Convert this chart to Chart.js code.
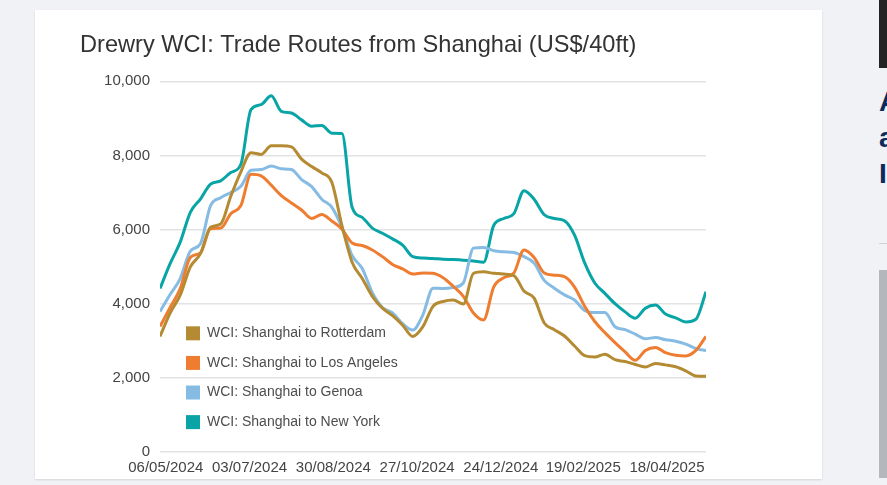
<!DOCTYPE html>
<html>
<head>
<meta charset="utf-8">
<script src="https://cdn.jsdelivr.net/npm/chart.js@4.4.1/dist/chart.umd.min.js"></script>
<style>
  html, body { margin:0; padding:0; width:887px; height:485px; overflow:hidden; background:#f1f2f6; }
  #card { position:absolute; left:35px; top:10px; width:787px; height:469px; background:#fff; box-shadow:0 1px 2px rgba(0,0,0,0.12); }
  #chart { position:absolute; left:0; top:0; }
  #topblock { position:absolute; left:879px; top:0; width:20px; height:68px; background:#232323; }
  #heading { position:absolute; left:879px; top:84px; width:200px; font:bold 28px "Liberation Sans", Arial, sans-serif; line-height:36px; color:#0b2b5c; }
  #rule { position:absolute; left:879px; top:243px; width:20px; height:1px; background:#cfd2d6; }
  #greyblock { position:absolute; left:879px; top:270px; width:20px; height:208px; background:#b4b8bd; }
</style>
</head>
<body>
<div id="card"></div>
<div id="topblock"></div>
<div id="heading">A<br>a<br>I</div>
<div id="rule"></div>
<div id="greyblock"></div>
<canvas id="chart" width="887" height="485"></canvas>
<script>
// weekly WCI readings, first one on startDate
var startDate = "02/05/2024";
var tickLabels = ["06/05/2024","03/07/2024","30/08/2024","27/10/2024","24/12/2024","19/02/2025","18/04/2025"];

var rotterdam = [3117,3750,4234,4993,5350,6065,6150,6900,7560,8075,8029,8260,8260,8230,7900,7700,7530,7270,
  6100,5120,4680,4200,3880,3680,3420,3117,3380,3930,4060,4100,3990,4820,4860,4820,4800,4760,4340,4150,
  3480,3300,3130,2860,2600,2565,2640,2490,2440,2360,2294,2385,2350,2300,2190,2050,2045];
var losAngeles = [3385,3900,4411,5250,5370,6020,6040,6430,6650,7494,7450,7200,6914,6720,6530,6300,6410,6230,
  6010,5640,5570,5450,5270,5060,4940,4800,4830,4820,4700,4470,4200,3750,3560,4450,4700,4830,5450,5250,
  4830,4770,4730,4450,3930,3520,3220,2950,2700,2473,2740,2822,2680,2610,2590,2740,3117];
var genoa = [3787,4250,4679,5420,5620,6646,6860,7000,7170,7600,7620,7718,7640,7620,7350,7160,6820,6600,
  6050,5300,4950,4300,3900,3750,3460,3290,3700,4420,4411,4440,4560,5500,5520,5430,5400,5380,5270,5100,
  4630,4420,4240,4100,3820,3760,3760,3380,3300,3180,3055,3090,3030,2990,2910,2790,2734];
var newYork = [4411,5082,5663,6467,6823,7226,7316,7539,7762,9236,9370,9611,9192,9147,8960,8790,8810,8600,
  8590,6600,6330,6040,5900,5750,5580,5270,5234,5220,5200,5190,5175,5150,5120,6110,6300,6430,7050,6820,
  6400,6300,6240,5850,5100,4560,4280,4000,3780,3610,3880,3966,3720,3620,3510,3580,4323];

var seriesNames = ["WCI: Shanghai to Rotterdam","WCI: Shanghai to Los Angeles","WCI: Shanghai to Genoa","WCI: Shanghai to New York"];
var seriesColors = ["#b48a32","#ef7d31","#86bce4","#08a4a6"];
var seriesValues = [rotterdam, losAngeles, genoa, newYork];

function toDay(s) {
    var p = s.split("/");
    return Date.UTC(+p[2], +p[1]-1, +p[0]) / 86400000;
}
var day0 = toDay(startDate);
var tickDays = tickLabels.map(function(s){ return toDay(s) - day0; });

function points(values) {
    return values.map(function(v, i){ return {x: i*7, y: v}; });
}

var datasets = seriesValues.map(function(vals, k){
    return {
        label: seriesNames[k],
        data: points(vals),
        borderColor: seriesColors[k],
        backgroundColor: seriesColors[k],
        borderWidth: 3,
        pointRadius: 0,
        fill: false,
        cubicInterpolationMode: "monotone"
    };
});

// legend sits inside the plot, lower left
var insideLegend = {
    id: "insideLegend",
    afterDraw: function(chart) {
        var ctx = chart.ctx;
        var area = chart.chartArea;
        ctx.save();
        ctx.font = "14px 'Liberation Sans', Arial, sans-serif";
        ctx.textBaseline = "middle";
        chart.data.datasets.forEach(function(ds, i){
            var y = area.top + 252 + i*29.6;
            ctx.fillStyle = ds.borderColor;
            ctx.fillRect(area.left + 26, y - 7, 14, 14);
            ctx.fillStyle = "#4d4d4d";
            ctx.fillText(ds.label, area.left + 47, y);
        });
        ctx.restore();
    }
};

var fontFam = "'Liberation Sans', Arial, sans-serif";

new Chart(document.getElementById("chart"), {
    type: "line",
    data: { datasets: datasets },
    plugins: [insideLegend],
    options: {
        responsive: false,
        animation: false,
        layout: { padding: { left: 80, right: 181, top: 31, bottom: 1 } },
        plugins: {
            legend: { display: false },
            tooltip: { enabled: false },
            title: {
                display: true,
                text: "Drewry WCI: Trade Routes from Shanghai (US$/40ft)",
                align: "start",
                color: "#333",
                font: { family: fontFam, size: 23.6, weight: "normal" },
                padding: { top: 0, bottom: 22 }
            }
        },
        scales: {
            x: {
                type: "linear",
                min: 0,
                max: (rotterdam.length - 1) * 7,
                bounds: "data",
                grid: { display: false, drawTicks: false },
                border: { display: false },
                afterBuildTicks: function(scale) {
                    scale.ticks = tickDays.map(function(d){ return {value: d}; });
                },
                ticks: {
                    autoSkip: false,
                    maxRotation: 0,
                    padding: 7,
                    color: "#444",
                    font: { family: fontFam, size: 15 },
                    callback: function(v) {
                        var i = tickDays.indexOf(v);
                        return i >= 0 ? tickLabels[i] : "";
                    }
                }
            },
            y: {
                min: 0,
                max: 10000,
                afterFit: function(scale) { scale.width = 80; },
                grid: { color: "#e3e3e3", lineWidth: 1.5, drawTicks: false },
                border: { display: false },
                ticks: {
                    stepSize: 2000,
                    padding: 10,
                    color: "#444",
                    font: { family: fontFam, size: 15 },
                    callback: function(v) { return v.toLocaleString("en-US"); }
                }
            }
        }
    }
});
</script>
</body>
</html>
